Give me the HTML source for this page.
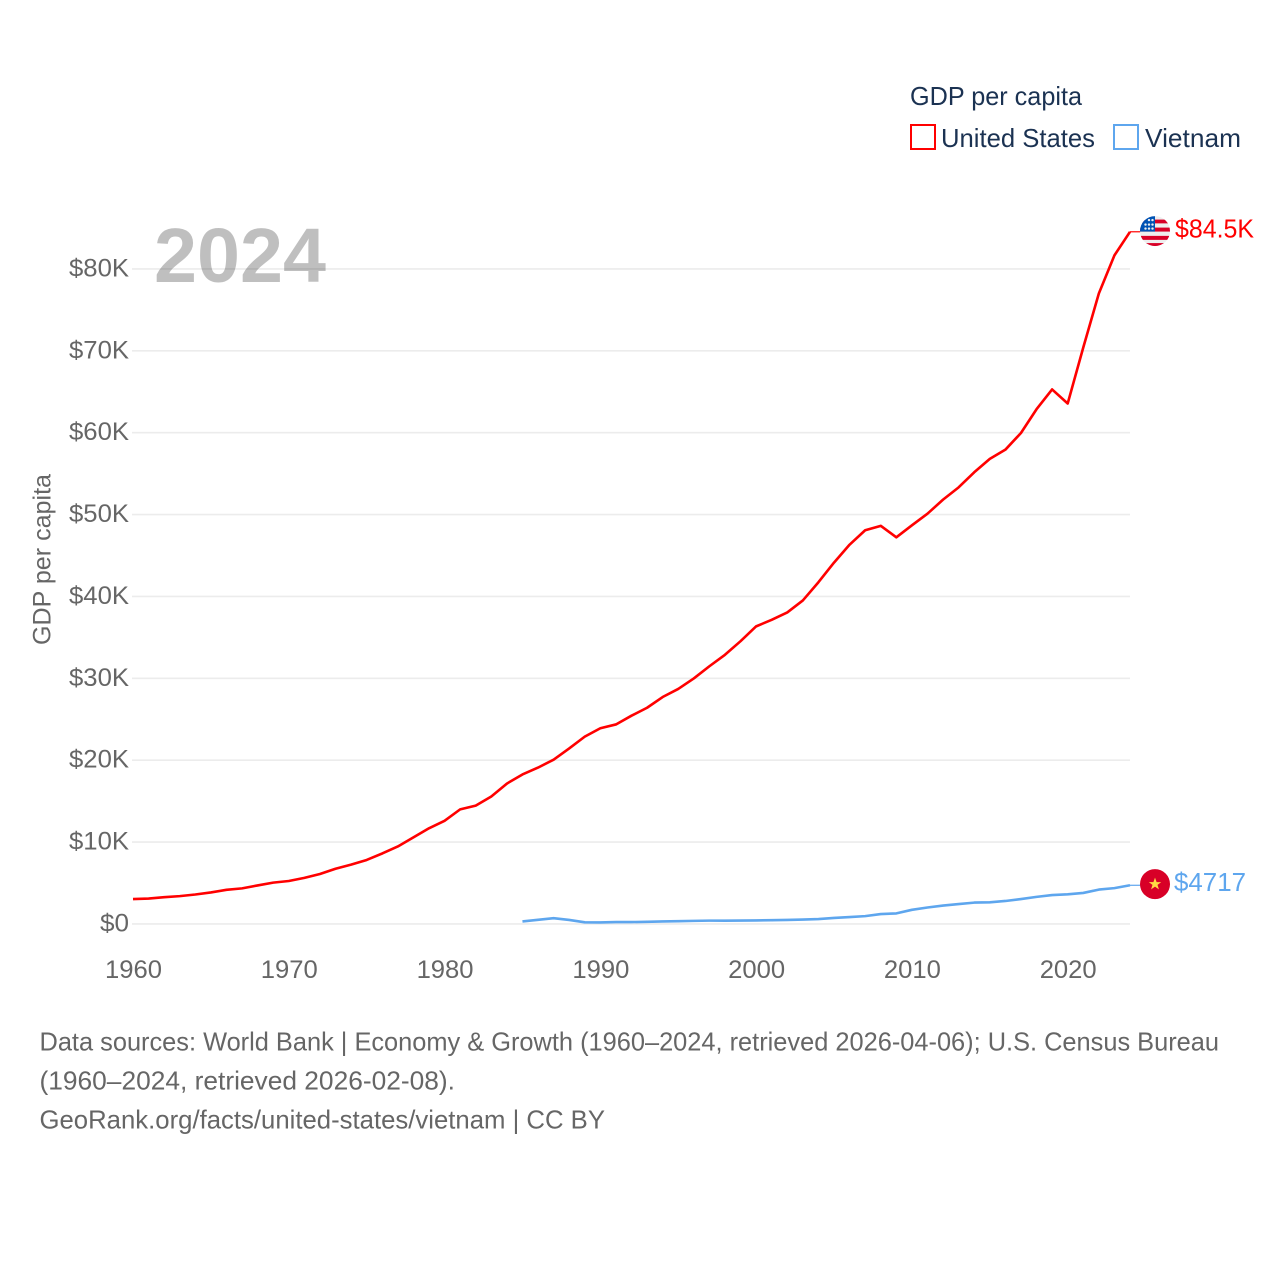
<!DOCTYPE html>
<html lang="en">
<head>
<meta charset="utf-8">
<title>GDP per capita: United States and Vietnam</title>
<style>
html,body{margin:0;padding:0;background:#fff;}
body{width:1280px;height:1280px;overflow:hidden;}
svg{display:block;font-family:"Liberation Sans",sans-serif;}
</style>
</head>
<body>
<svg id="chart" width="1280" height="1280" viewBox="0 0 1280 1280" xmlns="http://www.w3.org/2000/svg">
<defs>
<clipPath id="flag-clip"><circle cx="0" cy="0" r="15"></circle></clipPath>
</defs>
<rect width="1280" height="1280" fill="#ffffff"></rect>

<g font-size="26" fill="#1b3252">
<text x="910" y="105" textLength="172" lengthAdjust="spacingAndGlyphs">GDP per capita</text>
<g>
<rect x="911" y="125" width="24" height="24" fill="#fff" stroke="#ff0000" stroke-width="2"></rect>
<text x="941" y="147" textLength="154" lengthAdjust="spacingAndGlyphs">United States</text>
</g>
<g>
<rect x="1114" y="125" width="24" height="24" fill="#fff" stroke="#5ea6ee" stroke-width="2"></rect>
<text x="1145" y="147" textLength="96" lengthAdjust="spacingAndGlyphs">Vietnam</text>
</g>
</g>

<g id="grid"></g>
<g id="y-ticks"></g>
<g id="x-ticks"></g>

<text transform="translate(50.5,645) rotate(-90)" font-size="25" fill="#666666" textLength="171" lengthAdjust="spacingAndGlyphs">GDP per capita</text>

<path id="line-us" fill="none" stroke="#ff0000" stroke-width="2.6" stroke-linejoin="round"></path>
<path id="line-vn" fill="none" stroke="#5ea6ee" stroke-width="2.6" stroke-linejoin="round"></path>
<path id="connector-us" fill="none" stroke="#ff0000" stroke-width="1.2"></path>
<path id="connector-vn" fill="none" stroke="#5ea6ee" stroke-width="1.2"></path>

<g id="flag-us">
<g clip-path="url(#flag-clip)">
<rect x="-15" y="-15" width="30" height="30" fill="#eeeeee"></rect>
<rect x="-15" y="-11.5" width="30" height="3.8" fill="#d80027"></rect>
<rect x="-15" y="-3.5" width="30" height="4" fill="#d80027"></rect>
<rect x="-15" y="4.8" width="30" height="4" fill="#d80027"></rect>
<rect x="-15" y="12" width="30" height="3" fill="#d80027"></rect>
<rect x="-15" y="-15" width="15" height="15.5" fill="#0052b4"></rect>
<circle cx="-6" cy="-11" r="1.2" fill="#eeeeee"></circle>
<circle cx="-2.5" cy="-11" r="1.2" fill="#eeeeee"></circle>
<circle cx="-9.5" cy="-6.5" r="1.2" fill="#eeeeee"></circle>
<circle cx="-6" cy="-6.5" r="1.2" fill="#eeeeee"></circle>
<circle cx="-2.5" cy="-6.5" r="1.2" fill="#eeeeee"></circle>
<circle cx="-9.5" cy="-2.5" r="1.2" fill="#eeeeee"></circle>
<circle cx="-6" cy="-2.5" r="1.2" fill="#eeeeee"></circle>
<circle cx="-2.5" cy="-2.5" r="1.2" fill="#eeeeee"></circle>
</g>
</g>
<g id="flag-vn">
<circle cx="0" cy="0" r="15" fill="#d80027"></circle>
<polygon points="0,-6.5 1.6,-2 6.2,-2 2.5,0.8 3.9,5.3 0,2.6 -3.9,5.3 -2.5,0.8 -6.2,-2 -1.6,-2" fill="#ffda44"></polygon>
</g>

<text id="value-us" x="1175" font-size="26" fill="#ff0000" textLength="79" lengthAdjust="spacingAndGlyphs"></text>
<text id="value-vn" x="1174" font-size="26" fill="#5ea6ee" textLength="72" lengthAdjust="spacingAndGlyphs"></text>

<text x="154" y="282" font-size="77" font-weight="700" fill="#000000" fill-opacity="0.25" textLength="172" lengthAdjust="spacingAndGlyphs">2024</text>

<g font-size="26" fill="#666666">
<text x="39.5" y="1050.5" textLength="1179.5" lengthAdjust="spacingAndGlyphs">Data sources: World Bank | Economy &amp; Growth (1960–2024, retrieved 2026-04-06); U.S. Census Bureau</text>
<text x="39.5" y="1089.5" textLength="415.5" lengthAdjust="spacingAndGlyphs">(1960–2024, retrieved 2026-02-08).</text>
<text x="39.5" y="1128.5" textLength="565.5" lengthAdjust="spacingAndGlyphs">GeoRank.org/facts/united-states/vietnam | CC BY</text>
</g>
</svg>
<script>
const usYears = [1960,1961,1962,1963,1964,1965,1966,1967,1968,1969,1970,1971,1972,1973,1974,1975,1976,1977,1978,1979,1980,1981,1982,1983,1984,1985,1986,1987,1988,1989,1990,1991,1992,1993,1994,1995,1996,1997,1998,1999,2000,2001,2002,2003,2004,2005,2006,2007,2008,2009,2010,2011,2012,2013,2014,2015,2016,2017,2018,2019,2020,2021,2022,2023,2024];
const usValues = [3030,3090,3260,3390,3590,3840,4160,4340,4700,5040,5240,5620,6100,6740,7240,7810,8600,9460,10570,11680,12590,13990,14450,15560,17140,18250,19090,20060,21430,22870,23900,24360,25430,26400,27710,28700,29980,31470,32870,34530,36340,37140,38040,39510,41730,44130,46320,48080,48620,47220,48680,50100,51820,53320,55160,56800,57920,59960,62860,65280,63560,70400,77000,81650,84534];
const vnYears = [1985,1986,1987,1988,1989,1990,1991,1992,1993,1994,1995,1996,1997,1998,1999,2000,2001,2002,2003,2004,2005,2006,2007,2008,2009,2010,2011,2012,2013,2014,2015,2016,2017,2018,2019,2020,2021,2022,2023,2024];
const vnValues = [300,500,700,480,190,180,220,220,260,300,330,370,400,395,405,425,450,480,530,590,730,830,950,1200,1280,1720,2000,2240,2420,2600,2640,2800,3030,3300,3520,3610,3780,4190,4370,4717];
const yTickValues = [0,10000,20000,30000,40000,50000,60000,70000,80000];
const yTickLabels = ["$0","$10K","$20K","$30K","$40K","$50K","$60K","$70K","$80K"];
const xTickValues = [1960,1970,1980,1990,2000,2010,2020];
const xTickLabels = ["1960","1970","1980","1990","2000","2010","2020"];
const usEndLabel = "$84.5K";
const vnEndLabel = "$4717";

const SVG_NS = "http://www.w3.org/2000/svg";
const xScale = function (year) { return 133 + (year - 1960) * (1130 - 133) / 64; };
const yScale = function (value) { return 923.9 - value * 655 / 80000; };
const linePath = function (years, values) {
  return years.map(function (year, i) {
    return (i ? "L" : "M") + xScale(year).toFixed(2) + " " + yScale(values[i]).toFixed(2);
  }).join(" ");
};

const grid = document.getElementById("grid");
const yTicks = document.getElementById("y-ticks");
const xTicks = document.getElementById("x-ticks");

yTickValues.forEach(function (value, i) {
  const y = yScale(value);
  const rule = document.createElementNS(SVG_NS, "line");
  
  
  rule.setAttribute("x1", 132);
  rule.setAttribute("x2", 1130);
  rule.setAttribute("y1", y);
  rule.setAttribute("y2", y);
  rule.setAttribute("stroke", "#ececec");
  rule.setAttribute("stroke-width", "1.6");
  grid.appendChild(rule);

  const label = document.createElementNS(SVG_NS, "text");
  
  
  label.setAttribute("x", 129);
  label.setAttribute("y", y + 7.5);
  label.setAttribute("text-anchor", "end");
  label.setAttribute("font-size", "25");
  label.setAttribute("fill", "#666666");
  label.setAttribute("textLength", value === 0 ? 29 : 60);
  label.setAttribute("lengthAdjust", "spacingAndGlyphs");
  label.textContent = yTickLabels[i];
  yTicks.appendChild(label);
});

xTickValues.forEach(function (year, i) {
  const label = document.createElementNS(SVG_NS, "text");
  
  
  label.setAttribute("x", xScale(year) + 0.5);
  label.setAttribute("y", 978);
  label.setAttribute("text-anchor", "middle");
  label.setAttribute("font-size", "25");
  label.setAttribute("fill", "#666666");
  label.setAttribute("textLength", 57);
  label.setAttribute("lengthAdjust", "spacingAndGlyphs");
  label.textContent = xTickLabels[i];
  xTicks.appendChild(label);
});

document.getElementById("line-us").setAttribute("d", linePath(usYears, usValues));
document.getElementById("line-vn").setAttribute("d", linePath(vnYears, vnValues));

const usEndX = xScale(usYears[usYears.length - 1]);
const usEndY = yScale(usValues[usValues.length - 1]);
const vnEndX = xScale(vnYears[vnYears.length - 1]);
const vnEndY = yScale(vnValues[vnValues.length - 1]);

document.getElementById("connector-us").setAttribute("d", "M" + usEndX + " " + usEndY + " H" + (usEndX + 12));
document.getElementById("connector-vn").setAttribute("d", "M" + vnEndX + " " + vnEndY + " H" + (vnEndX + 12));
document.getElementById("flag-us").setAttribute("transform", "translate(1155," + (usEndY - 0.7) + ")");
document.getElementById("flag-vn").setAttribute("transform", "translate(1155," + (vnEndY - 1.2) + ")");

const usLabel = document.getElementById("value-us");
usLabel.setAttribute("y", usEndY + 5.8);
usLabel.textContent = usEndLabel;
const vnLabel = document.getElementById("value-vn");
vnLabel.setAttribute("y", vnEndY + 5.8);
vnLabel.textContent = vnEndLabel;
</script>
</body>
</html>
